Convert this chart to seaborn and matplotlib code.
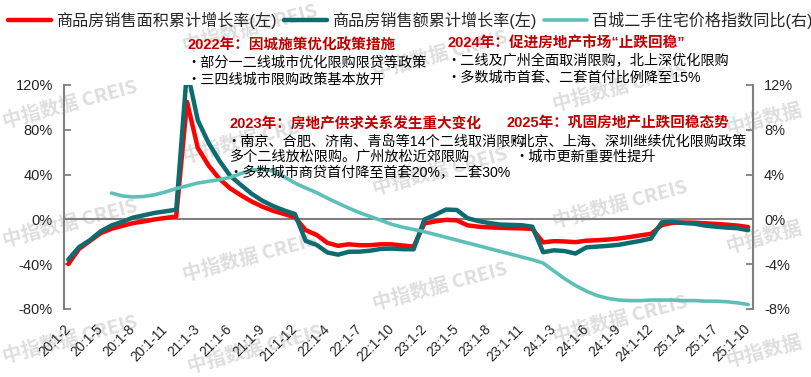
import numpy as np
import pandas as pd
import seaborn as sns
import matplotlib
matplotlib.use("Agg")
import matplotlib.pyplot as plt
from matplotlib.ticker import FuncFormatter

# 累计同比 (%), 20:1-2 ... 25:1-10
area_growth = [-39.9, -26.3, -19.3, -12.3, -8.4, -5.8, -3.3, -1.8, 0.0, 1.3, 2.6,
               104.9, 63.8, 48.1, 36.3, 27.7, 21.5, 15.9, 11.3, 7.6, 4.8, 1.9,
               -9.6, -13.8, -20.9, -23.6, -22.2, -23.1, -23.0, -22.2, -22.3, -23.3, -24.3,
               -3.6, -1.8, -0.4, -0.9, -5.3, -6.5, -7.1, -7.5, -7.8, -8.0, -8.5,
               -20.5, -19.4, -19.7, -20.3, -19.0, -18.6, -18.0, -17.1, -15.8, -14.3, -12.9,
               -5.1, -3.0, -2.8, -2.9, -3.5, -4.0, -4.7, -5.5, -6.8]
amount_growth = [-35.9, -24.7, -18.6, -10.6, -5.4, -2.1, 1.6, 3.7, 5.8, 7.2, 8.7,
                 133.4, 88.5, 68.2, 52.4, 38.9, 30.7, 22.8, 16.6, 11.8, 8.0, 4.8,
                 -19.3, -22.7, -29.5, -31.5, -28.9, -28.8, -27.9, -26.3, -26.1, -26.6, -26.7,
                 -0.1, 4.1, 8.8, 8.4, 1.1, -1.5, -3.2, -4.6, -4.9, -5.2, -6.5,
                 -29.3, -27.6, -28.3, -30.5, -25.0, -24.3, -23.6, -22.7, -20.9, -19.2, -17.1,
                 -2.6, -2.1, -3.2, -3.8, -5.5, -6.5, -7.3, -7.9, -9.6]
# 百城二手住宅价格指数同比 (%), 右轴
price_yoy = [np.nan, np.nan, np.nan, np.nan, 2.35, 2.1, 2.0, 2.05, 2.2, 2.45, 2.75,
             3.0, 3.25, 3.4, 3.55, 3.75, 4.1, 4.4, 4.5, 4.3, 3.8, 3.25,
             2.8, 2.4, 1.9, 1.45, 1.0, 0.6, 0.25, -0.1, -0.45, -0.7, -0.9,
             -1.1, -1.35, -1.6, -1.85, -2.1, -2.35, -2.6, -2.85, -3.1, -3.35, -3.6,
             -3.9, -4.6, -5.3, -5.9, -6.4, -6.8, -7.05, -7.2, -7.25, -7.25, -7.2,
             -7.2, -7.2, -7.25, -7.25, -7.3, -7.3, -7.35, -7.45, -7.6]

tick_labels = ["20:1-2", "20:1-5", "20:1-8", "20:1-11", "21:1-3", "21:1-6", "21:1-9",
               "21:1-12", "22:1-4", "22:1-7", "22:1-10", "23:1-2", "23:1-5", "23:1-8",
               "23:1-11", "24:1-3", "24:1-6", "24:1-9", "24:1-12", "25:1-4", "25:1-7",
               "25:1-10"]

RED = "#FF0000"
TEAL = "#0E6B6F"
LIGHT = "#5CC0B6"
GRAY = "#808080"
TITLE_RED = "#C00000"

df = pd.DataFrame({"idx": np.arange(len(area_growth)), "area": area_growth,
                   "amount": amount_growth, "price": price_yoy})

sns.set_style("white")
plt.rcParams["font.family"] = ["Liberation Sans", "Noto Sans CJK SC"]
plt.rcParams["axes.unicode_minus"] = False

W, H = 812, 377
fig = plt.figure(figsize=(W / 100, H / 100), dpi=100)


def fx(px):
    return px / W


def fy(py):
    return 1 - py / H


# watermark
marks = [(70, 105), (70, 224), (70, 340),
         (250, 29), (250, 140), (250, 258), (255, 350),
         (440, 55), (440, 172), (440, 287),
         (620, 88), (620, 205), (620, 320)]
for mx, my in marks:
    fig.text(fx(mx), fy(my), "中指数据 CREIS", rotation=15, ha="center", va="center",
             fontsize=14, fontweight="bold", color="#dedede", zorder=-1,
             family=["Noto Sans CJK SC", "DejaVu Sans"])
for my in (120, 238, 352):
    fig.text(fx(764), fy(my), "中指数据", rotation=15, ha="center", va="center",
             fontsize=14, fontweight="bold", color="#dedede", zorder=-1,
             family=["Noto Sans CJK SC", "DejaVu Sans"])

ax = fig.add_axes([fx(64), fy(309), fx(753) - fx(64), fy(85) - fy(309)])
ax2 = ax.twinx()
for a in (ax, ax2):
    a.patch.set_alpha(0)

ax.axhline(0, color=GRAY, lw=1.5, zorder=1)
sns.lineplot(data=df, x="idx", y="area", ax=ax, color=RED, lw=3.2,
             label="商品房销售面积累计增长率(左)", zorder=3)
sns.lineplot(data=df, x="idx", y="amount", ax=ax, color=TEAL, lw=3.2,
             label="商品房销售额累计增长率(左)", zorder=3)
sns.lineplot(data=df, x="idx", y="price", ax=ax2, color=LIGHT, lw=2.6,
             label="百城二手住宅价格指数同比(右)", zorder=3)

ax.set_xlim(-0.4, 63.45)
ax.set_ylim(-80, 120)
ax2.set_ylim(-8, 12)
ax.set_yticks([-80, -40, 0, 40, 80, 120])
ax2.set_yticks([-8, -4, 0, 4, 8, 12])
ax.yaxis.set_major_formatter(FuncFormatter(lambda v, p: f"{v:.0f}%"))
ax2.yaxis.set_major_formatter(FuncFormatter(lambda v, p: f"{v:.0f}%"))
ax.set_xticks(np.arange(0, len(area_growth), 3))
ax.set_xticklabels(tick_labels)
ax.set_xlabel("")
ax.set_ylabel("")
ax2.set_ylabel("")

ax.tick_params(axis="y", direction="in", length=5, width=1.3, color=GRAY,
               labelsize=10.5, pad=8, left=True)
ax2.tick_params(axis="y", direction="in", length=5, width=1.3, color=GRAY,
                labelsize=10.5, pad=8, right=True)
ax.tick_params(axis="x", length=0, labelsize=9.8, pad=13)
plt.setp(ax.get_xticklabels(), rotation=45, ha="right", va="center",
         rotation_mode="anchor")

for s in ["top", "right", "bottom"]:
    ax.spines[s].set_visible(False)
for s in ["top", "left", "bottom"]:
    ax2.spines[s].set_visible(False)
ax.spines["left"].set_color(GRAY)
ax.spines["left"].set_linewidth(1.5)
ax2.spines["right"].set_color(GRAY)
ax2.spines["right"].set_linewidth(1.5)

h1, l1 = ax.get_legend_handles_labels()
h2, l2 = ax2.get_legend_handles_labels()
ax.get_legend().remove()
ax2.get_legend().remove()
fig.legend(h1 + h2, l1 + l2, loc="center", bbox_to_anchor=(0.505, fy(20)), ncol=3,
           frameon=False, fontsize=11.6, handlelength=2.7, handletextpad=0.3,
           columnspacing=0.45)

# policy notes
titles = [("2022年：因城施策优化政策措施", 188, 45),
          ("2024年：促进房地产市场“止跌回稳”", 448, 43),
          ("2023年：房地产供求关系发生重大变化", 230, 124),
          ("2025年：巩固房地产止跌回稳态势", 507, 123)]
notes = [("・部分一二线城市优化限购限贷等政策", 186, 63),
         ("・三四线城市限购政策基本放开", 186, 80),
         ("・二线及广州全面取消限购，北上深优化限购", 446, 61),
         ("・多数城市首套、二套首付比例降至15%", 446, 78),
         ("・南京、合肥、济南、青岛等14个二线取消限购", 226, 142),
         ("多个二线放松限购。广州放松近郊限购", 230, 157),
         ("・多数城市商贷首付降至首套20%，二套30%", 228, 173),
         ("・北京、上海、深圳继续优化限购政策", 506, 142),
         ("・城市更新重要性提升", 514, 157)]
for txt, px, py in titles:
    fig.text(fx(px), fy(py), txt, ha="left", va="center", fontsize=10.5,
             fontweight="bold", color=TITLE_RED)
for txt, px, py in notes:
    fig.text(fx(px), fy(py), txt, ha="left", va="center", fontsize=10.2,
             color="black")

fig.savefig("out.png", dpi=100)
